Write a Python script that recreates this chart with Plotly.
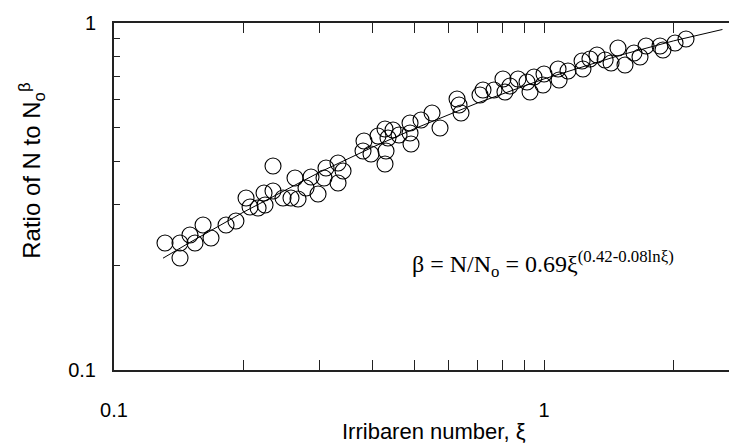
import plotly.graph_objects as go

# Measured data: Irribaren number (xi) vs ratio beta
xi = [0.1314, 0.1424, 0.1424, 0.1502, 0.1543, 0.1611, 0.1681, 0.1822, 0.1921, 0.2028,
      0.2072, 0.2163, 0.2245, 0.2233, 0.2343, 0.2343, 0.2472, 0.2580, 0.2636, 0.2679,
      0.2796, 0.2872, 0.2982, 0.3079, 0.3112, 0.3319, 0.3409, 0.3319, 0.3814, 0.3794,
      0.3960, 0.4268, 0.4337, 0.4111, 0.4291, 0.4268, 0.4455, 0.4601, 0.4880, 0.4880,
      0.4906, 0.5176, 0.5490, 0.5730, 0.6277, 0.6344, 0.6412, 0.7098, 0.7213, 0.7650,
      0.8027, 0.8113, 0.8335, 0.8700, 0.9130, 0.9278, 0.9478, 1.0000, 0.9947, 1.078,
      1.084, 1.137, 1.226, 1.232, 1.279, 1.328, 1.387, 1.432, 1.486, 1.543,
      1.619, 1.672, 1.727, 1.861, 1.891, 2.017, 2.139]
beta = [0.2323, 0.2323, 0.2103, 0.2449, 0.2323, 0.2617, 0.2401, 0.2617, 0.2688, 0.3131,
        0.2949, 0.2930, 0.2989, 0.3236, 0.3279, 0.3871, 0.3131, 0.3131, 0.3575, 0.3110,
        0.3345, 0.3599, 0.3215, 0.3575, 0.3820, 0.3950, 0.3746, 0.3458, 0.4570, 0.4277,
        0.4193, 0.4950, 0.4662, 0.4724, 0.4277, 0.3924, 0.4917, 0.4755, 0.5151, 0.4819,
        0.4480, 0.5254, 0.5503, 0.4983, 0.6039, 0.5803, 0.5503, 0.6202, 0.6410, 0.6410,
        0.6898, 0.6326, 0.6583, 0.6898, 0.6761, 0.6326, 0.6990, 0.7129, 0.6627, 0.7369,
        0.6852, 0.7271, 0.7772, 0.7369, 0.7876, 0.8089, 0.7823, 0.7670, 0.8472, 0.7568,
        0.8194, 0.7980, 0.8586, 0.8586, 0.8359, 0.8757, 0.8994]

# Fitted curve
fit_xi = [0.13, 0.15, 0.2, 0.25, 0.3, 0.4, 0.5, 0.7, 1.0, 1.5, 2.0, 2.6]
fit_beta = [0.210, 0.233, 0.285, 0.3305, 0.371, 0.439, 0.496, 0.588, 0.69, 0.807, 0.888, 0.958]

x_major = [0.1, 1]
x_minor = [0.2, 0.3, 0.4, 0.5, 0.6, 0.7, 0.8, 0.9, 2]
y_major = [0.1, 1]
y_minor = [0.2, 0.3, 0.4, 0.5, 0.6, 0.7, 0.8, 0.9]
x_ticktext = ["0.1", "1"]
y_ticktext = ["0.1", "1"]

x_title = "Irribaren number, ξ"
y_title = "Ratio of N to N<sub>o</sub><sup>β</sup>"
equation = "β = N/N<sub>o</sub> = 0.69ξ<sup>(0.42-0.08lnξ)</sup>"

AX = "#222222"
FONT = "Liberation Sans, Arial, sans-serif"
SERIF = "Liberation Serif, Times New Roman, serif"

fig = go.Figure()
fig.add_trace(go.Scatter(x=fit_xi, y=fit_beta, mode="lines",
                         line=dict(color="black", width=1), showlegend=False,
                         hoverinfo="skip"))
fig.add_trace(go.Scatter(x=xi, y=beta, mode="markers",
                         marker=dict(symbol="circle-open", size=16,
                                     color="black", line=dict(width=1.1)),
                         showlegend=False))
# right-side ticks only
fig.add_trace(go.Scatter(x=[None], y=[None], yaxis="y2", showlegend=False))

fig.update_layout(
    width=737, height=443,
    margin=dict(l=106, r=0, t=15, b=81),
    paper_bgcolor="white", plot_bgcolor="white",
    font=dict(family=FONT, color="black"),
    xaxis=dict(
        type="log", range=[-1, 0.4674],
        showline=True, linecolor=AX, linewidth=2, mirror="allticks",
        showgrid=False, zeroline=False,
        ticks="inside", ticklen=10, tickwidth=1, tickcolor=AX,
        tickvals=x_major, ticktext=x_ticktext,
        tickfont=dict(size=20, family=FONT), ticklabelstandoff=21,
        minor=dict(ticks="inside", ticklen=6, tickwidth=1, tickcolor=AX,
                   tickvals=x_minor, showgrid=False),
    ),
    yaxis=dict(
        type="log", range=[-1, 0],
        showline=True, linecolor=AX, linewidth=2, mirror=False,
        showgrid=False, zeroline=False,
        ticks="inside", ticklen=10, tickwidth=1, tickcolor=AX,
        tickvals=y_major, ticktext=y_ticktext,
        tickfont=dict(size=20, family=FONT), ticklabelstandoff=12,
        minor=dict(ticks="inside", ticklen=6, tickwidth=1, tickcolor=AX,
                   tickvals=y_minor, showgrid=False),
    ),
    yaxis2=dict(
        type="log", range=[-1, 0], overlaying="y", side="right",
        showline=False, showgrid=False, zeroline=False,
        ticks="inside", ticklen=6, tickwidth=1, tickcolor=AX,
        tickvals=y_minor, showticklabels=False,
    ),
    annotations=[
        dict(xref="paper", yref="paper", x=0.507, y=-0.176,
             xanchor="center", yanchor="middle", showarrow=False,
             text=x_title, font=dict(family=FONT, size=22, color="black")),
        dict(xref="paper", yref="paper", x=-0.13, y=0.574,
             xanchor="center", yanchor="middle", showarrow=False, textangle=-90,
             text=y_title, font=dict(family=FONT, size=24, color="black")),
        dict(xref="paper", yref="paper", x=0.469, y=0.306,
             xanchor="left", yanchor="middle", showarrow=False,
             text=equation, font=dict(family=SERIF, size=24, color="black")),
    ],
)

fig.write_html("out.html")
